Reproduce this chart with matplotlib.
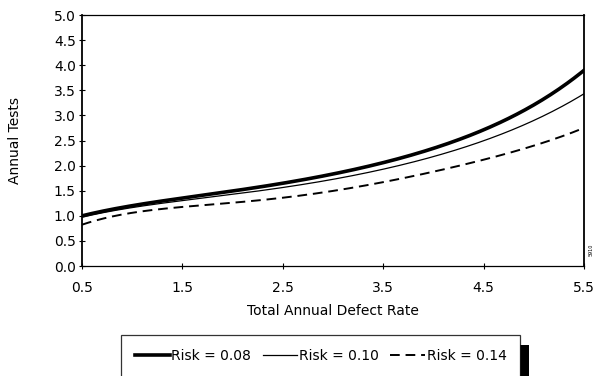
import matplotlib
matplotlib.use("Agg")
import matplotlib.pyplot as plt
import numpy as np
from matplotlib.patches import Rectangle

plt.rcParams['font.family'] = ['DejaVu Sans']

defect_rate = [0.5, 1.0, 1.5, 2.0, 2.5, 3.0, 3.5, 4.0, 4.5, 5.0, 5.5]
risk_008 = [1.00, 1.20, 1.35, 1.50, 1.65, 1.83, 2.05, 2.35, 2.72, 3.20, 3.90]
risk_010 = [0.97, 1.17, 1.30, 1.42, 1.57, 1.73, 1.93, 2.17, 2.50, 2.90, 3.43]
risk_014 = [0.82, 1.07, 1.17, 1.25, 1.37, 1.50, 1.67, 1.87, 2.12, 2.40, 2.75]
labels = ['Risk = 0.08', 'Risk = 0.10', 'Risk = 0.14']
x_ticks = [0.5, 1.5, 2.5, 3.5, 4.5, 5.5]
y_ticks = [0.0, 0.5, 1.0, 1.5, 2.0, 2.5, 3.0, 3.5, 4.0, 4.5, 5.0]

xs = np.linspace(0.5, 5.5, 300)
def smooth(y):
    c = np.polyfit(defect_rate, y, 5)
    return np.polyval(c, xs)

W, H = 603, 376
fig = plt.figure(figsize=(W/100, H/100), dpi=100)
ax = fig.add_axes([82/W, 1-266/H, (584-82)/W, (266-15)/H])

ax.plot(xs, smooth(risk_008), color='black', lw=2.6, label=labels[0])
ax.plot(xs, smooth(risk_010), color='black', lw=0.9, label=labels[1])
ax.plot(xs, smooth(risk_014), color='black', lw=1.4, ls=(0, (5, 3)), label=labels[2])

ax.set_xlim(0.5, 5.5)
ax.set_ylim(0, 5)
ax.set_xticks(x_ticks)
ax.set_xticklabels([f'{v:.1f}' for v in x_ticks])
ax.set_yticks(y_ticks)
ax.set_yticklabels([f'{v:.1f}' for v in y_ticks])
ax.tick_params(direction='inout', length=5, width=0.8, labelsize=10, pad=2)
ax.tick_params(axis='x', pad=8)
for s in ax.spines.values():
    s.set_linewidth(0.9)
ax.spines['left'].set_linewidth(1.3)
ax.spines['right'].set_linewidth(1.3)

ax.set_xlabel('Total Annual Defect Rate', fontsize=10, labelpad=7)
ax.set_ylabel('Annual Tests', fontsize=10, labelpad=23)

fig.text(591/W, 1-250/H, '5910', rotation=90, fontsize=3.5, ha='center', va='center')

leg = fig.legend(loc='upper left', bbox_to_anchor=(121/W, 1-335/H), ncol=3,
                 frameon=True, fancybox=False, edgecolor='black', fontsize=10,
                 handlelength=2.5, handletextpad=0.1, columnspacing=0.85,
                 borderpad=1.0, borderaxespad=0)
leg.get_frame().set_linewidth(0.9)

fig.canvas.draw()
bb = leg.get_window_extent()
fig.patches.append(Rectangle((bb.x1, 0), 9, bb.y1 - 10, transform=None,
                             facecolor='black', edgecolor='none', figure=fig))

fig.savefig('out.png', dpi=100)
